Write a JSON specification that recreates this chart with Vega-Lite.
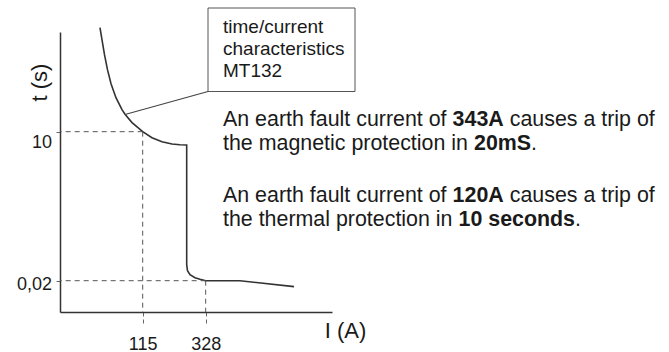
{
  "$schema": "https://vega.github.io/schema/vega-lite/v6.json",
  "width": 272,
  "height": 280,
  "autosize": {"type": "none"},
  "padding": {"left": 60, "top": 32, "right": 337, "bottom": 40},
  "background": "white",
  "config": {"view": {"stroke": null}, "font": "Liberation Sans"},
  "datasets": {
    "curve": [
      {"k": 1, "I": 56.5, "t": 765},
      {"k": 2, "I": 58.4, "t": 464},
      {"k": 3, "I": 60.9, "t": 248},
      {"k": 4, "I": 64.0, "t": 133},
      {"k": 5, "I": 67.9, "t": 74.0},
      {"k": 6, "I": 73.7, "t": 41.3},
      {"k": 7, "I": 81.5, "t": 25.0},
      {"k": 8, "I": 85.7, "t": 20.7},
      {"k": 9, "I": 96.3, "t": 14.6},
      {"k": 10, "I": 115, "t": 10},
      {"k": 11, "I": 134.2, "t": 7.79},
      {"k": 12, "I": 158.5, "t": 6.59},
      {"k": 13, "I": 187.2, "t": 5.99},
      {"k": 14, "I": 213.6, "t": 5.81},
      {"k": 15, "I": 239.1, "t": 5.74},
      {"k": 16, "I": 239.1, "t": 0.039},
      {"k": 17, "I": 242.3, "t": 0.0304},
      {"k": 18, "I": 252.6, "t": 0.0257},
      {"k": 19, "I": 274.5, "t": 0.0227},
      {"k": 20, "I": 298.4, "t": 0.0213},
      {"k": 21, "I": 328, "t": 0.02},
      {"k": 22, "I": 580, "t": 0.02},
      {"k": 23, "I": 1426, "t": 0.0156}
    ],
    "guides": [
      {"I": 115, "t": 10},
      {"I": 328, "t": 0.02}
    ],
    "box": [
      {"x0": 148, "x1": 295, "y0": -24, "y1": 59.5, "label": "time/current\ncharacteristics\nMT132", "tx": 163, "ty": 1}
    ],
    "callout": [
      {"x0": 65, "y0": 82.5, "x1": 148, "y1": 59.5}
    ],
    "notes": [
      {"text": "An earth fault current of", "x": 163, "y": 94, "part": "plain"},
      {"text": "343A", "x": 392.6, "y": 94, "part": "value"},
      {"text": "causes a trip of", "x": 449.7, "y": 94, "part": "plain"},
      {"text": "the magnetic protection in", "x": 163, "y": 118, "part": "plain"},
      {"text": "20mS", "x": 414.0, "y": 118, "part": "value"},
      {"text": ".", "x": 471.1, "y": 118, "part": "plain"},
      {"text": "An earth fault current of", "x": 163, "y": 170, "part": "plain"},
      {"text": "120A", "x": 392.6, "y": 170, "part": "value"},
      {"text": "causes a trip of", "x": 449.7, "y": 170, "part": "plain"},
      {"text": "the thermal protection in", "x": 163, "y": 194, "part": "plain"},
      {"text": "10 seconds", "x": 398.5, "y": 194, "part": "value"},
      {"text": ".", "x": 515.1, "y": 194, "part": "plain"}
    ]
  },
  "layer": [
    {
      "layer": [
        {
          "data": {"name": "curve"},
          "mark": {"type": "line", "color": "#333333", "strokeWidth": 1.6, "interpolate": "linear"},
          "encoding": {
            "x": {
              "field": "I",
              "type": "quantitative",
              "scale": {"type": "log", "domain": [29.05, 2683], "nice": false},
              "axis": {
                "values": [115, 328],
                "format": "d",
                "title": "I (A)",
                "titleFontSize": 22,
                "titleFontWeight": "normal",
                "titleColor": "#1a1a1a",
                "titleX": 285,
                "titleY": 25,
                "titleAlign": "center",
                "titleBaseline": "alphabetic",
                "labelFontSize": 18,
                "labelColor": "#1a1a1a",
                "labelPadding": 12,
                "labelFlush": false,
                "labelOverlap": false,
                "tickSize": 11,
                "tickDash": [4, 3],
                "tickColor": "#666666",
                "tickWidth": 1,
                "domainColor": "#333333",
                "domainWidth": 1.5,
                "grid": false
              }
            },
            "y": {
              "field": "t",
              "type": "quantitative",
              "scale": {"type": "log", "domain": [0.00542, 639], "nice": false},
              "axis": {
                "values": [0.02, 10],
                "labelExpr": "replace(toString(datum.value), '.', ',')",
                "title": "t (s)",
                "titleFontSize": 22,
                "titleFontWeight": "normal",
                "titleColor": "#1a1a1a",
                "titleX": -21,
                "titleY": 50,
                "titleAngle": -90,
                "titleAlign": "center",
                "titleBaseline": "middle",
                "labelFontSize": 18,
                "labelColor": "#1a1a1a",
                "labelPadding": 1.5,
                "labelOffset": {"condition": {"test": "datum.value == 10", "value": 11}, "value": 4},
                "labelOverlap": false,
                "labelFlush": false,
                "tickSize": 7,
                "tickDash": [4, 3],
                "tickColor": "#666666",
                "tickWidth": 1,
                "domainColor": "#333333",
                "domainWidth": 1.5,
                "grid": false
              }
            },
            "order": {"field": "k", "type": "quantitative"}
          }
        },
        {
          "data": {"name": "guides"},
          "mark": {"type": "rule", "color": "#555555", "strokeWidth": 1, "strokeDash": [5, 4]},
          "encoding": {
            "x": {"field": "I", "type": "quantitative"},
            "x2": {"datum": 29.05},
            "y": {"field": "t", "type": "quantitative"}
          }
        },
        {
          "data": {"name": "guides"},
          "mark": {"type": "rule", "color": "#555555", "strokeWidth": 1, "strokeDash": [5, 4]},
          "encoding": {
            "x": {"field": "I", "type": "quantitative"},
            "y": {"field": "t", "type": "quantitative"},
            "y2": {"datum": 0.00542}
          }
        }
      ]
    },
    {
      "layer": [
        {
          "data": {"name": "box"},
          "mark": {"type": "rect", "fill": "white", "stroke": "#555555", "strokeWidth": 1},
          "encoding": {
            "x": {"field": "x0", "type": "quantitative", "scale": {"domain": [0, 272], "nice": false, "zero": false}, "axis": null},
            "x2": {"field": "x1"},
            "y": {"field": "y0", "type": "quantitative", "scale": {"domain": [0, 280], "nice": false, "zero": false, "reverse": true}, "axis": null},
            "y2": {"field": "y1"}
          }
        },
        {
          "data": {"name": "box"},
          "mark": {"type": "text", "align": "left", "baseline": "alphabetic", "fontSize": 19, "lineBreak": "\n", "lineHeight": 22, "color": "#1a1a1a"},
          "encoding": {
            "x": {"field": "tx", "type": "quantitative"},
            "y": {"field": "ty", "type": "quantitative"},
            "text": {"field": "label"}
          }
        },
        {
          "data": {"name": "callout"},
          "mark": {"type": "rule", "color": "#444444", "strokeWidth": 1.2},
          "encoding": {
            "x": {"field": "x0", "type": "quantitative"},
            "y": {"field": "y0", "type": "quantitative"},
            "x2": {"field": "x1"},
            "y2": {"field": "y1"}
          }
        },
        {
          "data": {"name": "notes"},
          "transform": [{"filter": "datum.part == 'plain'"}],
          "mark": {"type": "text", "align": "left", "baseline": "alphabetic", "fontSize": 21.4, "color": "#1a1a1a"},
          "encoding": {
            "x": {"field": "x", "type": "quantitative"},
            "y": {"field": "y", "type": "quantitative"},
            "text": {"field": "text"}
          }
        },
        {
          "data": {"name": "notes"},
          "transform": [{"filter": "datum.part == 'value'"}],
          "mark": {"type": "text", "align": "left", "baseline": "alphabetic", "fontSize": 21.4, "fontWeight": "bold", "color": "#1a1a1a"},
          "encoding": {
            "x": {"field": "x", "type": "quantitative"},
            "y": {"field": "y", "type": "quantitative"},
            "text": {"field": "text"}
          }
        }
      ]
    }
  ],
  "resolve": {"scale": {"x": "independent", "y": "independent"}}
}
